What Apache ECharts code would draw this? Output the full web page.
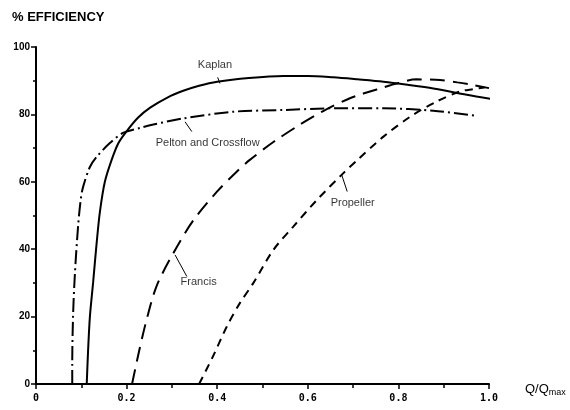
<!DOCTYPE html>
<html lang="en">
<head>
    <meta charset="UTF-8">
    <title>% EFFICIENCY</title>
    <script type="text/javascript" src="https://cdn.jsdelivr.net/npm/echarts@6/dist/echarts.min.js"></script>
</head>
<body style="height: 410px; margin: 0; width: 570px">
<div id="container" style="height: 100%; width: 100%"></div>
<script type="text/javascript">
    // curves: [Q/Qmax, % efficiency]
    var kaplan = [[0.112, 0], [0.115, 10], [0.119, 20], [0.126, 30], [0.134, 42], [0.141, 51],
        [0.152, 60], [0.167, 66.5], [0.182, 71.5], [0.2, 75], [0.225, 79], [0.252, 82],
        [0.29, 85], [0.325, 87], [0.36, 88.5], [0.4, 89.7], [0.47, 90.8], [0.546, 91.4],
        [0.6, 91.4], [0.656, 91], [0.71, 90.4], [0.767, 89.7], [0.82, 88.8], [0.877, 87.7],
        [0.951, 85.8], [1.017, 84.3]];
    var pelton = [[0.080, 0], [0.080, 6], [0.082, 21], [0.086, 33], [0.093, 47], [0.099, 55],
        [0.104, 58.5], [0.119, 64.4], [0.134, 67.4], [0.163, 71.5], [0.192, 74.5], [0.23, 76],
        [0.259, 77], [0.325, 78.8], [0.436, 80.8], [0.546, 81.3], [0.656, 81.8], [0.767, 81.8],
        [0.877, 81.1], [0.971, 79.6]];
    var francis = [[0.212, 0], [0.228, 10], [0.244, 19], [0.266, 29], [0.303, 38.8], [0.347, 48.5],
        [0.399, 57], [0.443, 63], [0.472, 66.5], [0.524, 71.8], [0.583, 77], [0.634, 81],
        [0.693, 84.8], [0.752, 87.4], [0.80, 89.3], [0.840, 90.4], [0.892, 90.2], [0.93, 89.5],
        [0.962, 88.8], [1.0, 87.8]];
    var propeller = [[0.36, 0], [0.39, 8], [0.421, 17], [0.45, 24], [0.48, 30], [0.524, 39.8],
        [0.568, 46.7], [0.62, 54.6], [0.678, 62.5], [0.708, 66.3], [0.767, 73.4], [0.826, 79.3],
        [0.884, 83.8], [0.936, 86.8], [0.965, 87.5], [0.99, 88]];

    // curve names and where they sit, with their leader lines
    var labelNames = ['Kaplan', 'Pelton and Crossflow', 'Francis', 'Propeller'];
    var labelPos = [[0.395, 94.7], [0.379, 71.5], [0.359, 30.4], [0.699, 53.7]];
    var leaders = [
        [[0.401, 91.0], [0.406, 89.2]],
        [[0.329, 77.8], [0.344, 74.9]],
        [[0.307, 38.3], [0.333, 31.9]],
        [[0.675, 62.0], [0.687, 57.1]]
    ];

    var font = "'Liberation Sans', Arial, sans-serif";

    function curve(name, data, dash) {
        return {
            name: name,
            type: 'line',
            data: data,
            smooth: 0.3,
            showSymbol: false,
            clip: false,
            lineStyle: { color: '#000', width: 2, type: dash }
        };
    }

    var dom = document.getElementById("container");
    var myChart = echarts.init(dom);

    var option = {
        animation: false,
        title: {
            text: '% EFFICIENCY',
            left: 12,
            top: 11,
            padding: 0,
            textStyle: { fontFamily: font, fontSize: 13, fontWeight: 'bold', color: '#000' }
        },
        grid: { left: 36, right: 81, top: 47, bottom: 26 },
        xAxis: {
            type: 'value',
            min: 0,
            max: 1,
            interval: 0.2,
            name: 'Q/Q{sub|max}',
            nameLocation: 'end',
            nameGap: 36,
            nameTextStyle: {
                fontFamily: font, fontSize: 13, color: '#000', padding: [10, 0, 0, 0],
                rich: { sub: { fontFamily: font, fontSize: 9, color: '#000', padding: [7, 0, 0, 0] } }
            },
            axisLine: { lineStyle: { color: '#000', width: 2 } },
            axisTick: { length: 5, lineStyle: { color: '#000', width: 1.5 } },
            minorTick: { show: true, splitNumber: 2, length: 4, lineStyle: { color: '#000', width: 1.5 } },
            splitLine: { show: false },
            axisLabel: {
                margin: 9,
                fontFamily: "'DejaVu Sans Mono', monospace",
                fontWeight: 'bold',
                fontSize: 10,
                color: '#000',
                formatter: function (v) { return v === 0 ? '0' : v.toFixed(1); }
            }
        },
        yAxis: {
            type: 'value',
            min: 0,
            max: 100,
            interval: 20,
            axisLine: { show: true, lineStyle: { color: '#000', width: 2 } },
            axisTick: { show: true, length: 5, lineStyle: { color: '#000', width: 1.5 } },
            minorTick: { show: true, splitNumber: 2, length: 3, lineStyle: { color: '#000', width: 1.5 } },
            splitLine: { show: false },
            axisLabel: {
                margin: 6,
                fontFamily: font,
                fontWeight: 'bold',
                fontSize: 10,
                color: '#000'
            }
        },
        series: [
            curve('Kaplan', kaplan, 'solid'),
            curve('Pelton and Crossflow', pelton, [14, 4, 2, 4]),
            curve('Francis', francis, [15, 8]),
            curve('Propeller', propeller, [8, 6]),
            {
                type: 'scatter',
                symbolSize: 0,
                silent: true,
                data: labelNames.map(function (n, i) { return { name: n, value: labelPos[i] }; }),
                label: {
                    show: true,
                    position: 'inside',
                    formatter: '{b}',
                    fontFamily: font,
                    fontSize: 11,
                    color: '#000',
                    textBorderWidth: 0
                },
                markLine: {
                    silent: true,
                    symbol: ['none', 'none'],
                    label: { show: false },
                    lineStyle: { color: '#000', width: 1, type: 'solid' },
                    data: leaders.map(function (l) { return [{ coord: l[0] }, { coord: l[1] }]; })
                }
            }
        ]
    };
    if (option && typeof option === "object") {
        myChart.setOption(option, true);
    }
</script>
</body>
</html>
